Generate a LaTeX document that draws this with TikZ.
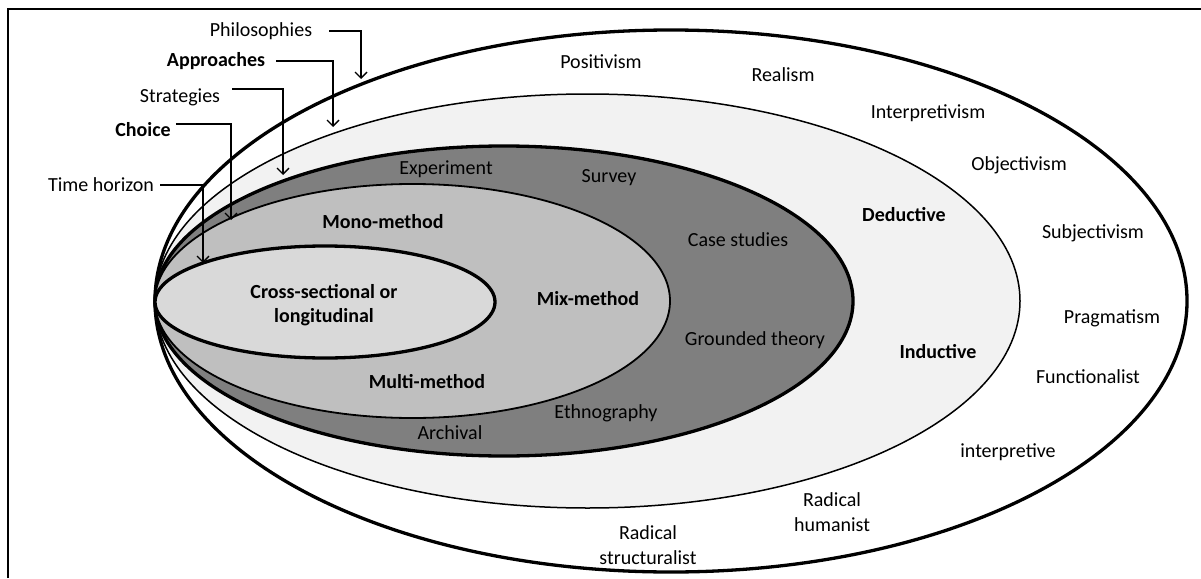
\documentclass[tikz,border=0pt]{standalone}
\usepackage{fontspec}
\setmainfont{Carlito}
\usetikzlibrary{arrows.meta}
\definecolor{bandA}{HTML}{F2F2F2}
\definecolor{bandB}{HTML}{7F7F7F}
\definecolor{bandC}{HTML}{BFBFBF}
\definecolor{bandD}{HTML}{D9D9D9}
\begin{document}
\begin{tikzpicture}[x=1pt,y=-1pt,
  lbl/.style={font=\fontsize{20}{24.5}\selectfont, inner sep=0pt, align=center},
  blbl/.style={font=\fontsize{20}{24.5}\selectfont\bfseries, inner sep=0pt, align=center},
  thickring/.style={line width=3.3pt},
  thinring/.style={line width=1.5pt},
  pointer/.style={line width=1.4pt, -{Straight Barb[length=6pt,width=12pt]}}]
\useasboundingbox (0,0) rectangle (1201,578);
\fill[white] (0,0) rectangle (1201,578);
% frame
\draw[line width=2.3pt] (8,578) |- (1201,9);

% nested layers, outermost first
\draw[thickring, fill=white] (671,301) ellipse [x radius=516pt, y radius=271pt];
\draw[thinring, fill=bandA] (587.5,301) ellipse [x radius=432.5pt, y radius=207pt];
\draw[thickring, fill=bandB] (504,301) ellipse [x radius=349pt, y radius=155pt];
\draw[line width=1.8pt, fill=bandC] (412.5,301) ellipse [x radius=257.5pt, y radius=117pt];
\draw[thickring, fill=bandD] (325,302) ellipse [x radius=170pt, y radius=56pt];

% layer names on the left
\node[lbl]  (phil)   at (261,31)  {Philosophies};
\node[blbl] (appr)   at (216,61)  {Approaches};
\node[lbl]  (strat)  at (180,97)  {Strategies};
\node[blbl] (choice) at (143,130) {Choice};
\node[lbl]  (timeh)  at (101,185) {Time horizon};

% philosophies
\node[lbl] (pos)    at (601,62)   {Positivism};
\node[lbl] (real)   at (783,75)   {Realism};
\node[lbl] (interp) at (928,113)  {Interpretivism};
\node[lbl] (obj)    at (1019,165) {Objectivism};
\node[lbl] (subj)   at (1093,233) {Subjectivism};
\node[lbl] (prag)   at (1112,318) {Pragmatism};
\node[lbl] (func)   at (1088,377) {Functionalist};
\node[lbl] (intpv)  at (1008,452) {interpretive};
\node[lbl] (radh)   at (832,512)  {Radical\\humanist};
\node[lbl] (rads)   at (648,545)  {Radical\\structuralist};

% approaches
\node[blbl] (ded) at (904,215) {Deductive};
\node[blbl] (ind) at (938,352) {Inductive};

% strategies
\node[lbl] (exper) at (446,169) {Experiment};
\node[lbl] (surv)  at (609,178) {Survey};
\node[lbl] (case)  at (738,240) {Case studies};
\node[lbl] (grnd)  at (755,340) {Grounded theory};
\node[lbl] (ethno) at (606,413) {Ethnography};
\node[lbl] (arch)  at (450,433) {Archival};

% choices
\node[blbl] (mono)  at (383,222) {Mono-method};
\node[blbl] (mix)   at (588,299) {Mix-method};
\node[blbl] (multi) at (427,382) {Multi-method};

% time horizon
\node[blbl] (cross) at (324,305) {Cross-sectional or\\longitudinal};

% pointers onto each layer
\coordinate (phTip) at (361,79);
\coordinate (apTip) at (333,127);
\coordinate (stTip) at (283,175);
\coordinate (chTip) at (231,220);
\coordinate (thTip) at (203,263);
\draw[pointer] ([xshift=17pt]phil.east) -| (phTip);
\draw[pointer] ([xshift=11pt]appr.east) -| (apTip);
\draw[pointer] ([xshift=12pt,yshift=8pt]strat.east) -| (stTip);
\draw[pointer] ([xshift=5pt,yshift=6pt]choice.east) -| (chTip);
\draw[pointer] ([xshift=6pt]timeh.east) -| (thTip);
\end{tikzpicture}
\end{document}
